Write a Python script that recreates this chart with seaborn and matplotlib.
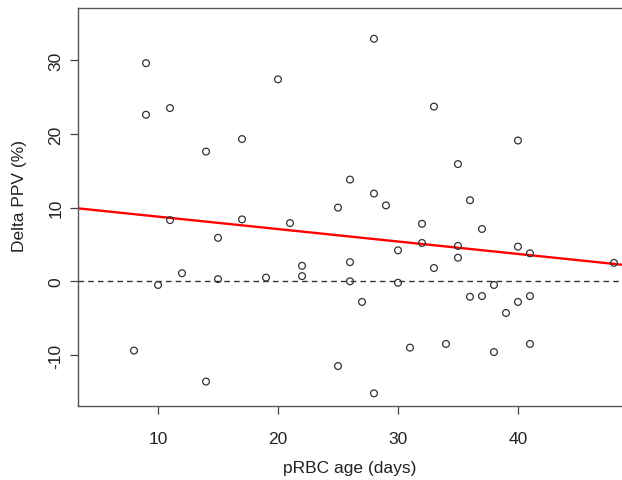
# =========================================
# DELTA PPV VS pRBC AGE
# =========================================

import numpy as np
import pandas as pd

import matplotlib
matplotlib.use("Agg")
import matplotlib.pyplot as plt
import seaborn as sns


# =========================================
# DATA
# =========================================

age_days = [
    8, 9, 9, 10, 11, 11, 12, 14, 14, 15, 15, 17, 17, 19, 20, 21, 22, 22,
    25, 25, 26, 26, 26, 27, 28, 28, 28, 29, 30, 30, 31, 32, 32, 33, 33,
    34, 35, 35, 35, 36, 36, 37, 37, 38, 38, 39, 40, 40, 40, 41, 41, 41, 48
]

delta_ppv = [
    -9.4, 29.6, 22.6, -0.5, 23.5, 8.3, 1.1, 17.6, -13.6, 5.9, 0.3, 19.3,
    8.4, 0.5, 27.4, 7.9, 2.1, 0.7, 10.0, -11.5, 13.8, 2.6, 0.0, -2.8,
    32.9, 11.9, -15.2, 10.3, 4.2, -0.2, -9.0, 7.8, 5.2, 23.7, 1.8, -8.5,
    15.9, 4.8, 3.2, 11.0, -2.1, 7.1, -2.0, -0.5, -9.6, -4.3, 19.1, 4.7,
    -2.8, 3.8, -2.0, -8.5, 2.5
]

# fitted line as drawn in the figure
fit_intercept = 10.46
fit_slope = -0.1687

x_ticks = [10, 20, 30, 40]
y_ticks = [-10, 0, 10, 20, 30]

df = pd.DataFrame({
    "age": age_days,
    "dppv": delta_ppv
})


# =========================================
# STYLE
# =========================================

sns.set_style("white")
plt.rcParams["font.family"] = ["Liberation Sans", "DejaVu Sans"]

fig = plt.figure(figsize=(6.22, 4.81), dpi=100)
ax = fig.add_axes([0.1254, 0.1532, 0.8746, 0.8281])

x_lim = (3.33, 48.67)
y_lim = (-16.96, 37.08)


# =========================================
# PLOT
# =========================================

sns.scatterplot(
    data=df,
    x="age",
    y="dppv",
    marker="o",
    s=24,
    facecolor="none",
    edgecolor="#333333",
    linewidth=0.9,
    ax=ax,
    zorder=3
)

line_x = np.array(x_lim)
line_df = pd.DataFrame({
    "age": line_x,
    "dppv": fit_intercept + fit_slope * line_x
})

sns.lineplot(
    data=line_df,
    x="age",
    y="dppv",
    color="red",
    linewidth=1.7,
    ax=ax
)

ax.axhline(
    0,
    color="#333333",
    linestyle=(0, (4, 3)),
    linewidth=1.0
)

ax.set_xlim(*x_lim)
ax.set_ylim(*y_lim)


# =========================================
# AXES
# =========================================

ax.set_xticks(x_ticks)
ax.set_yticks(y_ticks)
ax.set_yticklabels([str(t) for t in y_ticks], rotation=90, va="center")

ax.tick_params(
    axis="both",
    direction="out",
    length=5.5,
    width=0.9,
    color="#444444",
    labelsize=12.5,
    labelcolor="#222222",
    bottom=True,
    left=True
)
ax.tick_params(axis="x", pad=12)
ax.tick_params(axis="y", pad=5)

for side in ["left", "bottom", "top"]:
    ax.spines[side].set_color("#555555")
    ax.spines[side].set_linewidth(1.0)
ax.spines["right"].set_visible(False)

ax.set_xlabel("pRBC age (days)", fontsize=12.5, color="#222222", labelpad=10)
ax.set_ylabel("Delta PPV (%)", fontsize=12.5, color="#222222")
ax.yaxis.set_label_coords(-0.094, 0.53)

plt.savefig("out.png", dpi=100)
plt.close()
